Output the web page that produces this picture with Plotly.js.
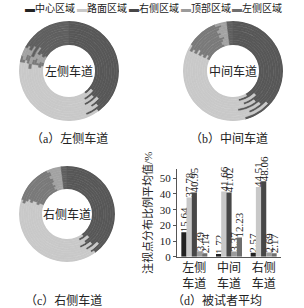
<!DOCTYPE html>
<html><head><meta charset="utf-8">
<script src="https://cdn.plot.ly/plotly-3.0.1.min.js"></script>
<style>html,body{margin:0;padding:0;background:#fff}#chart{width:304px;height:308px}</style>
</head><body><div id="chart"></div>
<script>
// Categories (legend order) and lanes
const categories = ['中心区域', '路面区域', '右侧区域', '顶部区域', '左侧区域'];
const lanes = ['左侧<br>车道', '中间<br>车道', '右侧<br>车道'];
const donutTitles = ['左侧车道', '中间车道', '右侧车道'];
const captions = ['（a）左侧车道', '（b）中间车道', '（c）右侧车道', '（d）被试者平均'];

// (d) averages per lane, by category
const avgCenter = [15.64, 1.72, 2.57];
const avgRoad   = [37.78, 41.66, 44.51];
const avgRight  = [40.95, 41.02, 48.06];
const avgTop    = [3.49, 3.37, 2.69];
const avgLeft   = [2.14, 12.23, 2.17];

// Donut rings (inner -> outer), percent per ring
const leftRingCenter = [16, 17, 16, 17, 14, 19, 15, 17, 16, 17];
const leftRingRoad   = [38, 41, 36, 40, 35, 39, 37, 40, 34, 38];
const leftRingRight  = [40, 36, 42, 38, 43, 37, 41, 39, 44, 40];
const leftRingTop    = [4, 3, 5, 2, 6, 3, 4, 2, 5, 3];
const leftRingLeft   = [2, 3, 1, 3, 2, 2, 3, 2, 1, 2];

const midRingCenter = [2, 2, 2, 2, 2, 2, 2, 2, 2, 2];
const midRingRoad   = [40, 37, 44, 38, 42, 36, 43, 39, 45, 38];
const midRingRight  = [42, 47, 38, 45, 40, 48, 39, 44, 37, 46];
const midRingTop    = [3, 4, 3, 2, 4, 3, 4, 3, 2, 4];
const midRingLeft   = [13, 10, 13, 13, 12, 11, 12, 12, 14, 10];

const rightRingCenter = [2, 2, 2, 2, 2, 2, 2, 2, 2, 2];
const rightRingRoad   = [41, 38, 42, 40, 37, 41, 39, 43, 38, 40];
const rightRingRight  = [40, 43, 38, 41, 44, 39, 42, 37, 41, 40];
const rightRingTop    = [4, 5, 4, 5, 4, 4, 5, 4, 4, 5];
const rightRingLeft   = [13, 12, 14, 12, 13, 14, 12, 14, 15, 13];

const barColors   = ['#222222', '#c8c8c8', '#474747', '#9b9b9b', '#6e6e6e'];
const donutColors = ['#606060', '#c9c9c9', '#585858', '#a3a3a3', '#7a7a7a'];

const W = 304, H = 308;
const px = x => x / W, py = y => 1 - y / H;
const FONT = 'Liberation Serif, Noto Sans CJK SC, serif';

const traces = [];
const laneRings = [
  [leftRingCenter, leftRingRoad, leftRingRight, leftRingTop, leftRingLeft],
  [midRingCenter, midRingRoad, midRingRight, midRingTop, midRingLeft],
  [rightRingCenter, rightRingRoad, rightRingRight, rightRingTop, rightRingLeft]
];
const donutOrder = [2, 1, 4, 3, 0];
const polarIds = ['polar', 'polar2', 'polar3'];
laneRings.forEach((rings, li) => {
  const n = rings[0].length;
  const start = new Array(n).fill(0);
  donutOrder.forEach(ci => {
    const vals = rings[ci];
    traces.push({
      type: 'barpolar', subplot: polarIds[li],
      r: vals.map(() => 1), base: vals.map((v, i) => i),
      theta: vals.map((v, i) => (start[i] + v / 2) * 3.6),
      width: vals.map(v => v * 3.6),
      marker: {color: donutColors[ci], line: {width: 0.6, color: donutColors[ci]}},
      showlegend: false, hoverinfo: 'skip'
    });
    vals.forEach((v, i) => { start[i] += v; });
  });
});

const avgs = [avgCenter, avgRoad, avgRight, avgTop, avgLeft];
avgs.forEach((vals, ci) => {
  traces.push({
    type: 'bar', x: lanes, y: vals, name: categories[ci],
    marker: {color: barColors[ci], line: {width: 0}},
    text: vals.map(v => v.toFixed(2)), textposition: 'outside', textangle: -90,
    textfont: {size: 11, color: '#222', family: FONT},
    cliponaxis: false, constraintext: 'none', showlegend: false, hoverinfo: 'skip'
  });
});

const polarCommon = (dx, dy) => ({
  domain: {x: dx, y: dy}, hole: 0.52, bgcolor: 'rgba(0,0,0,0)', barmode: 'overlay', bargap: 0,
  radialaxis: {visible: false, range: [0, 10]},
  angularaxis: {visible: false, rotation: 90, direction: 'clockwise'}
});

const annotations = [];
const donutCenters = [[69, 71], [233, 71], [67, 214]];
donutTitles.forEach((t, i) => annotations.push({
  text: t, x: px(donutCenters[i][0]), y: py(donutCenters[i][1]), xref: 'paper', yref: 'paper',
  xanchor: 'center', yanchor: 'middle',
  showarrow: false, font: {size: 12, color: '#222', family: FONT}
}));
const capPos = [[69, 138], [229, 138], [63, 300], [217, 300]];
captions.forEach((t, i) => annotations.push({
  text: t, x: px(capPos[i][0]), y: py(capPos[i][1]), xref: 'paper', yref: 'paper',
  xanchor: 'center', yanchor: 'middle',
  showarrow: false, font: {size: 12, color: '#222', family: FONT}
}));
const legX = [23, 75, 127, 179, 230];
categories.forEach((c, i) => annotations.push({
  text: '<span style="color:' + barColors[i] + '">▬</span>' + c,
  x: px(legX[i]), y: py(8), xref: 'paper', yref: 'paper', xanchor: 'left', yanchor: 'middle',
  showarrow: false, font: {size: 10, color: '#222', family: FONT}
}));

const layout = {
  width: W, height: H, margin: {l: 0, r: 0, t: 0, b: 0},
  paper_bgcolor: '#fff', plot_bgcolor: '#fff',
  font: {family: FONT, color: '#222'}, showlegend: false,
  barmode: 'group', bargap: 0.25, bargroupgap: 0,
  polar: polarCommon([px(19), px(119)], [py(121), py(21)]),
  polar2: polarCommon([px(183), px(283)], [py(121), py(21)]),
  polar3: polarCommon([px(19), px(115)], [py(262), py(166)]),
  xaxis: {domain: [px(177), px(281)], showline: true, linecolor: '#555', ticks: '',
    tickfont: {size: 12, family: FONT}, fixedrange: true},
  yaxis: {domain: [py(256.7), py(168.9)], range: [0, 56], tickvals: [0, 10, 20, 30, 40, 50],
    showline: true, linecolor: '#555', ticks: 'outside', ticklen: 3, tickcolor: '#555', showgrid: false,
    zeroline: false, tickfont: {size: 11, family: FONT},
    title: {text: '注视点分布比例平均值/%', font: {size: 11, family: FONT}, standoff: 4}},
  annotations: annotations
};
Plotly.newPlot('chart', traces, layout, {staticPlot: true, displayModeBar: false});
</script></body></html>
